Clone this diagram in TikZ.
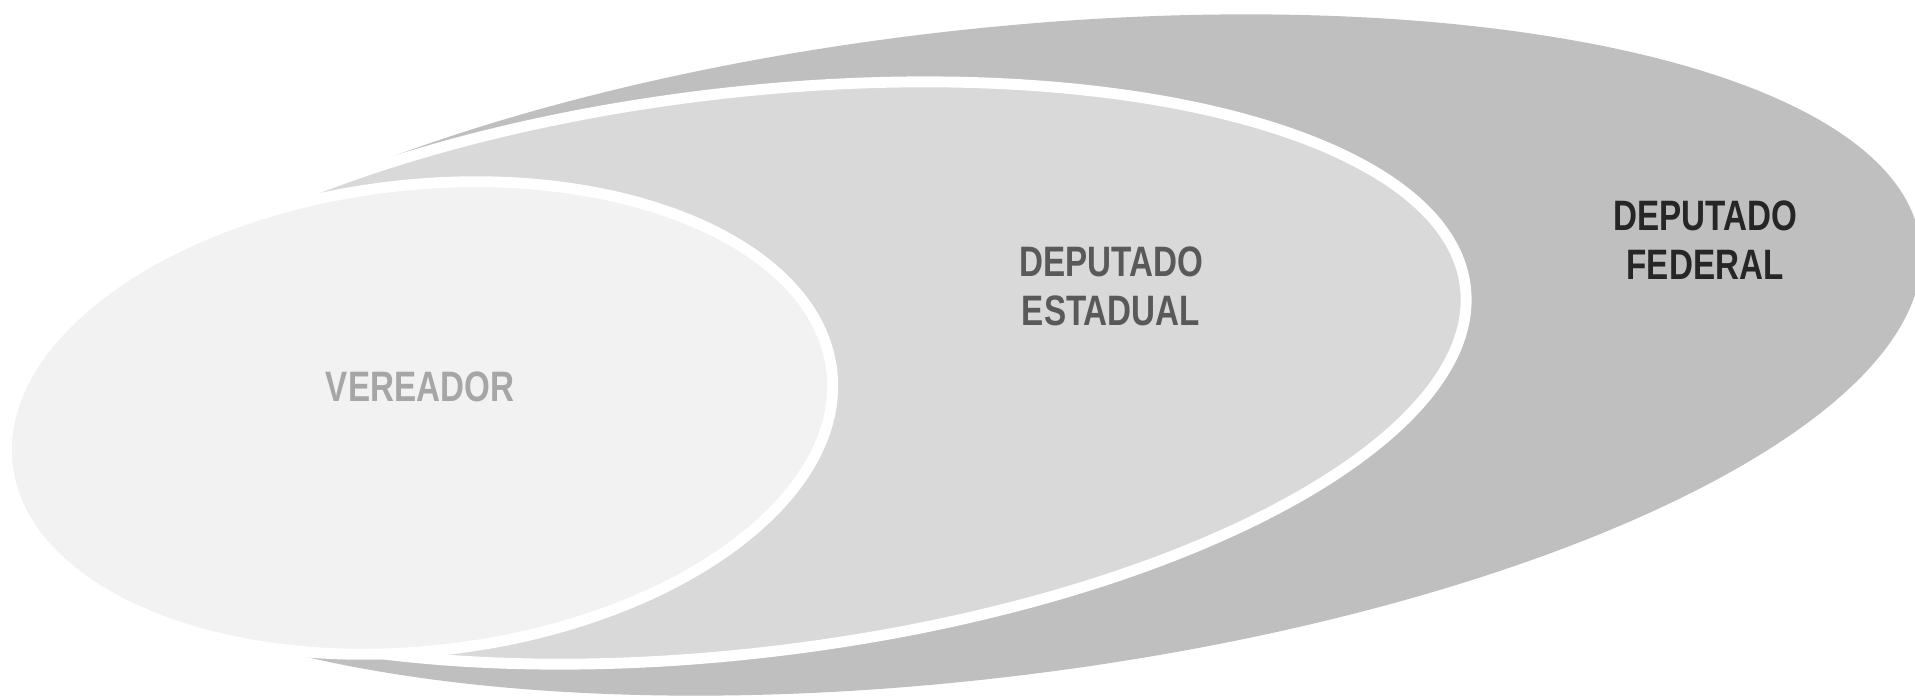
\documentclass[tikz,border=0pt]{standalone}
\usepackage{fontspec}
\setsansfont{Liberation Sans}[FakeStretch=0.78]
\usepackage{tikz}
\usetikzlibrary{positioning}
\definecolor{federalgray}{HTML}{BFBFBF}
\definecolor{estadualgray}{HTML}{D9D9D9}
\definecolor{vereadorgray}{HTML}{F2F2F2}

\begin{document}
\begin{tikzpicture}[
        x=0.01cm, y=0.01cm,
        level ring/.style={
            line width=3.1pt,
            draw=white
        },
        level label/.style={
            font=\sffamily\bfseries\fontsize{12.1}{13.9}\selectfont,
            align=center,
            inner sep=0pt
        }
    ]
        \useasboundingbox (0,0) rectangle (1915,696);
        \clip (0,0) rectangle (1915,696);

        % --- NESTED ELLIPSES, OUTERMOST FIRST ---
        % Federal level, no visible ring
        \fill[federalgray, shift={(971,341)}, rotate=6.7]
            (0,0) ellipse [x radius=956, y radius=324];
        % State level sits on top of it
        \filldraw[level ring, fill=estadualgray, shift={(742.5,323)}, rotate=6.8]
            (0,0) ellipse [x radius=728, y radius=280];
        % Municipal level is the smallest
        \filldraw[level ring, fill=vereadorgray, shift={(419.5,278)}, rotate=6.5]
            (0,0) ellipse [x radius=415, y radius=233];

        % --- LABELS ---
        \node[level label, text=black!35] (vereador) at (420,309.5) {VEREADOR};
        \node[level label, text=black!65] (estadual) at (1111,410) {DEPUTADO\\ESTADUAL};
        \node[level label, text=black!85] (federal) at (1705,455.7) {DEPUTADO\\FEDERAL};

    \end{tikzpicture}
\end{document}
